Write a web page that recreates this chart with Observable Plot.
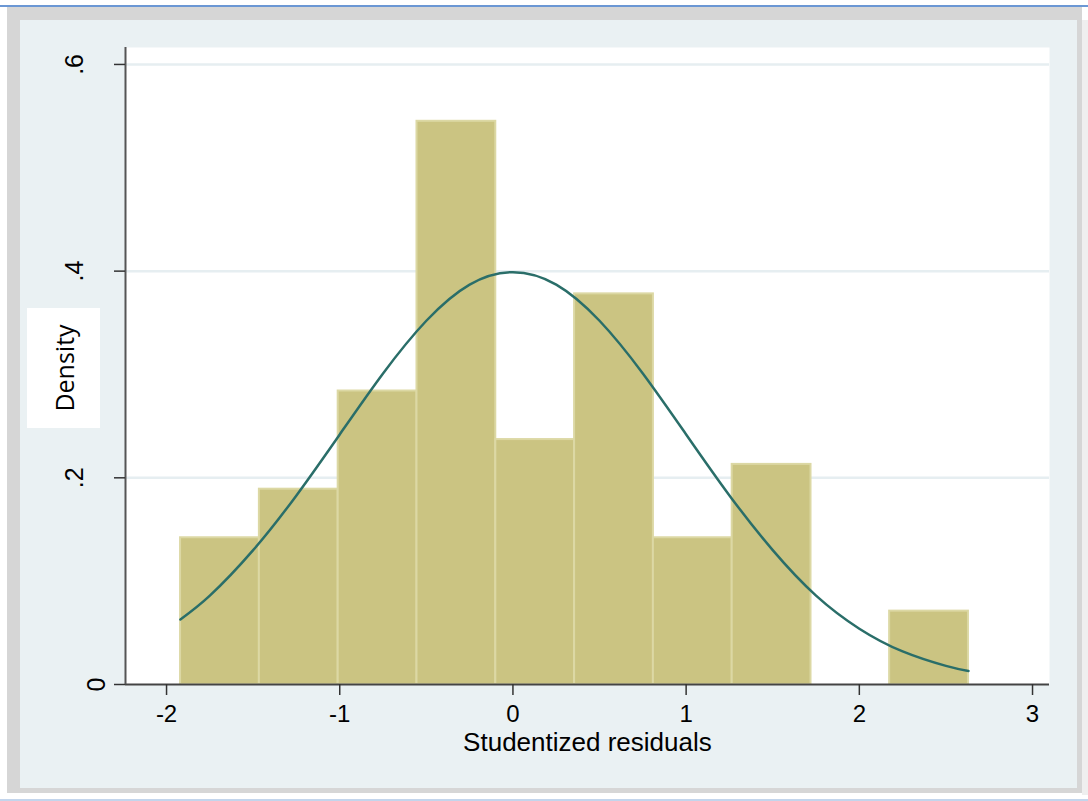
<!DOCTYPE html>
<html>
<head>
<meta charset="utf-8">
<script src="https://cdn.jsdelivr.net/npm/d3@7"></script>
<script src="https://cdn.jsdelivr.net/npm/@observablehq/plot@0.6"></script>
<style>
  html, body { margin: 0; padding: 0; background: #ffffff; width: 1088px; height: 801px; overflow: hidden; }
  #topline { position: absolute; left: 0; top: 5px; width: 1088px; height: 2px; background: #6b97d4; }
  #botline { position: absolute; left: 0; top: 799px; width: 1088px; height: 2px; background: #c3d5ec; }
  #frame { position: absolute; left: 7px; top: 7px; width: 1075px; height: 786px; background: #d6d6d6; }
  #frameR { position: absolute; left: 1082px; top: 20px; width: 6px; height: 775px; background: #efefef; }
  #chart { position: absolute; left: 20px; top: 20px; width: 1057px; height: 768px; background: #eaf1f3; }
  #ylab { position: absolute; left: 27px; top: 308px; width: 73px; height: 120px; background: #ffffff; }
  #ylab span { position: absolute; left: 50%; top: 50%; transform: translate(-50%, -50%) rotate(-90deg);
    font-family: "Open Sans", sans-serif; font-size: 25px; color: #000; white-space: nowrap; }
  svg { display: block; }
</style>
</head>
<body>
<div id="topline"></div>
<div id="frame"></div>
<div id="frameR"></div>
<div id="chart"></div>
<div id="ylab"><span>Density</span></div>
<div id="botline"></div>
<script>
// Histogram bins (Studentized residuals) and densities
const binStart = [-1.919, -1.464, -1.009, -0.554, -0.099, 0.356, 0.811, 1.266, 1.721, 2.175];
const binEnd   = [-1.464, -1.009, -0.554, -0.099, 0.356, 0.811, 1.266, 1.721, 2.175, 2.630];
const density  = [0.142, 0.189, 0.284, 0.545, 0.237, 0.378, 0.142, 0.213, 0.0, 0.071];

// Normal density overlay
const curveX = [-1.92, -1.75, -1.5, -1.25, -1.0, -0.75, -0.5, -0.25, 0, 0.25, 0.5, 0.75, 1.0, 1.25, 1.5, 1.75, 2.0, 2.25, 2.5, 2.63];
const curveY = [0.063, 0.086, 0.130, 0.183, 0.242, 0.301, 0.352, 0.387, 0.399, 0.387, 0.352, 0.301, 0.242, 0.183, 0.130, 0.086, 0.054, 0.032, 0.018, 0.013];

const xTicks = [-2, -1, 0, 1, 2, 3];
const yTicks = [0, 0.2, 0.4, 0.6];
const yTickLabels = ["0", ".2", ".4", ".6"];
const xLabel = "Studentized residuals";

const bins = binStart.map((s, i) => ({x1: s, x2: binEnd[i], y: density[i]})).filter(d => d.y > 0);
const curve = curveX.map((x, i) => ({x, y: curveY[i]}));
const yLab = yTicks.map((v, i) => ({v, t: yTickLabels[i]}));

const chart = Plot.plot({
  width: 1057,
  height: 768,
  marginLeft: 105,
  marginRight: 28,
  marginTop: 27,
  marginBottom: 104,
  style: { background: "transparent", fontFamily: "'Liberation Sans', Arial, sans-serif" },
  x: { type: "linear", domain: [-2.237, 3.098] },
  y: { type: "linear", domain: [0, 0.6164] },
  marks: [
    Plot.frame({ fill: "#ffffff", stroke: "none" }),
    Plot.ruleY(yTicks.filter(d => d > 0), { stroke: "#e6eef1", strokeWidth: 2.5 }),
    Plot.rectY(bins, { x1: "x1", x2: "x2", y: "y", fill: "#cbc482", stroke: "#dcd8a4", strokeWidth: 2 }),
    Plot.line(curve, { x: "x", y: "y", stroke: "#2a6e69", strokeWidth: 2.5, curve: "natural" }),
    Plot.ruleY([0], { stroke: "#444444", strokeWidth: 2 }),
    Plot.ruleX([-2.237], { stroke: "#555555", strokeWidth: 2 }),
    Plot.axisX({ ticks: xTicks, tickSize: 11, tickPadding: 9, tickFormat: d => String(d), fontSize: 24, fill: "#000", stroke: "#333", strokeWidth: 1.5, label: null }),
    Plot.text([xLabel], { frameAnchor: "bottom", dy: 66, text: d => d, fontSize: 26, fill: "#000", x: () => 0.43 }),
    Plot.axisY({ ticks: yTicks, tickSize: 11, tickFormat: () => "", stroke: "#333", strokeWidth: 1.5, label: null }),
    Plot.text(yLab.filter(d => d.v === 0), { y: "v", text: "t", frameAnchor: "left", dx: -21, rotate: -90, textAnchor: "middle", lineAnchor: "bottom", fontSize: 25, fill: "#000" }),
    Plot.text(yLab.filter(d => d.v !== 0), { y: "v", text: "t", frameAnchor: "left", dx: -43, rotate: -90, textAnchor: "middle", lineAnchor: "bottom", fontSize: 25, fill: "#000" })
  ]
});
document.getElementById("chart").appendChild(chart);
</script>
</body>
</html>
